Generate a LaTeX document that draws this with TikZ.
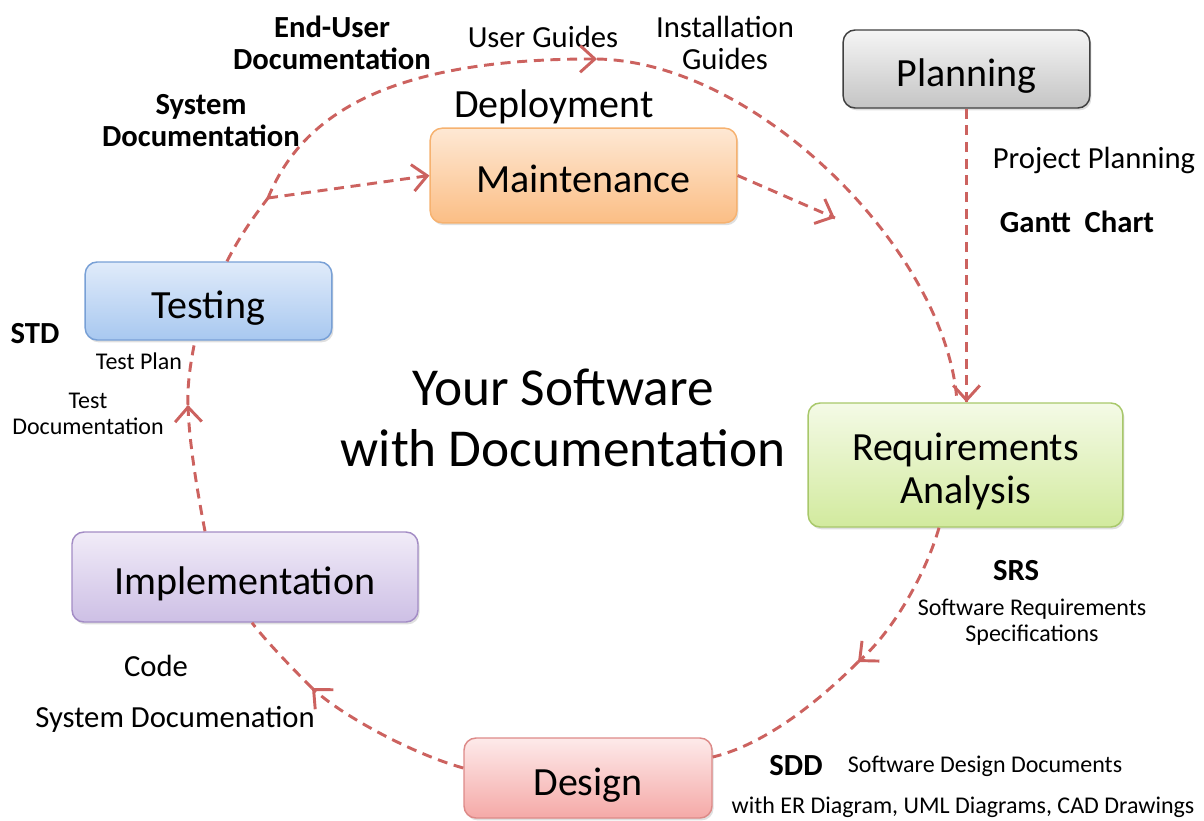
\documentclass[tikz,border=0pt]{standalone}
\usepackage{fontspec}
\setmainfont{Carlito}
\usetikzlibrary{arrows.meta,shadows,calc,decorations.markings}
\definecolor{arr}{RGB}{204,98,95}
\definecolor{plD}{RGB}{64,64,64}\definecolor{plT}{RGB}{245,245,245}\definecolor{plB}{RGB}{196,196,196}
\definecolor{maD}{RGB}{246,178,112}\definecolor{maT}{RGB}{254,232,212}\definecolor{maB}{RGB}{251,190,133}
\definecolor{teD}{RGB}{120,160,214}\definecolor{teT}{RGB}{224,235,250}\definecolor{teB}{RGB}{168,200,240}
\definecolor{reD}{RGB}{168,200,106}\definecolor{reT}{RGB}{244,250,230}\definecolor{reB}{RGB}{210,234,158}
\definecolor{imD}{RGB}{163,140,197}\definecolor{imT}{RGB}{241,236,248}\definecolor{imB}{RGB}{205,191,229}
\definecolor{deD}{RGB}{221,138,136}\definecolor{deT}{RGB}{253,234,234}\definecolor{deB}{RGB}{245,169,167}
\newcommand\szBox{\fontsize{30}{32}\selectfont}
\newcommand\szCtr{\fontsize{40}{46}\selectfont}
\newcommand\szMed{\fontsize{23}{24}\selectfont}
\newcommand\szSml{\fontsize{18}{19.5}\selectfont}
\begin{document}
\begin{tikzpicture}[x=0.75pt,y=-0.75pt,
  box/.style={draw, line width=1.1pt, rounded corners=9pt, align=center, inner sep=0pt, font=\szBox,
    text height=28pt, text depth=2pt,
    drop shadow={shadow xshift=1.2pt,shadow yshift=-1.8pt,opacity=0.25}},
  conn/.style={draw=arr, line width=2.2pt, dash pattern=on 7.5pt off 5pt},
  tipd/.style={postaction={decorate, decoration={markings,
    mark=at position 1 with {\pgfsetdash{}{0pt}\pgfsetlinewidth{2.2pt}\pgfsetstrokecolor{arr}%
      \arrow{Straight Barb[length=11pt,width=20pt]}}}}},
  lbl/.style={inner sep=0pt, align=center},
]
\useasboundingbox (0,0) rectangle (1204,821);

% boxes
\node[box, minimum width=185pt, minimum height=58.5pt, draw=plD, top color=plT, bottom color=plB] (plan) at (966.5,69) {Planning};
\node[box, minimum width=230pt, minimum height=71pt, draw=maD, top color=maT, bottom color=maB] (maint) at (583.5,175.5) {Maintenance};
\node[box, minimum width=185pt, minimum height=58.5pt, draw=teD, top color=teT, bottom color=teB] (test) at (208.5,301) {Testing};
\node[box, minimum width=236pt, minimum height=93pt, draw=reD, top color=reT, bottom color=reB,
  text height=58pt, text depth=1pt] (req) at (965.5,465) {Requirements\\Analysis};
\node[box, minimum width=259.5pt, minimum height=67.5pt, draw=imD, top color=imT, bottom color=imB] (impl) at (245,577) {Implementation};
\node[box, minimum width=186pt, minimum height=60pt, draw=deD, top color=deT, bottom color=deB] (design) at (588,778) {Design};

% labels
\node[lbl, font=\bfseries\szMed] (eud) at (332,43) {End-User\\Documentation};
\node[lbl, font=\szMed] (ugl) at (543,37) {User Guides};
\node[lbl, font=\szMed] (igl) at (725,43) {Installation\\Guides};
\node[lbl, font=\szBox] (dep) at (554,107) {Deployment};
\node[lbl, font=\bfseries\szMed] (sysd) at (201,121) {System\\Documentation};
\node[lbl, font=\szMed] (pp) at (1094,160) {Project Planning};
\node[lbl, font=\bfseries\szMed] (gc) at (1077,222) {Gantt~~Chart};
\node[lbl, font=\bfseries\szMed] (std) at (35,334) {STD};
\node[lbl, font=\szSml] (tp) at (139,361) {Test Plan};
\node[lbl, font=\szSml] (td) at (88,414) {Test\\Documentation};
\node[lbl, font=\szCtr] (ctr) at (563,418) {Your Software\\with Documentation};
\node[lbl, font=\bfseries\szMed] (srs) at (1016,571) {SRS};
\node[lbl, font=\szSml] (srsd) at (1032,622) {Software Requirements\\Specifications};
\node[lbl, font=\szMed] (code) at (156,666) {Code};
\node[lbl, font=\szMed] (sdoc) at (175,719) {System Documenation};
\node[lbl, font=\bfseries\szMed] (sdd) at (796,766) {SDD};
\node[lbl, font=\szSml] (sddd) at (985,766) {Software Design Documents};
\node[lbl, font=\szSml] (sddw) at (963,807) {with ER Diagram, UML Diagrams, CAD Drawings};

% coordinates
\coordinate (br) at (268,198);
\coordinate (ug) at (597,59);
\coordinate (mtip) at (835,218);
\coordinate (srstip) at (858,662);
\coordinate (codetip) at (312,688);
\coordinate (testtip) at (188,405);

% connectors
\draw[conn,tipd] (plan.south) -- (plan.south |- req.north);
\draw[conn,tipd] (maint.east) -- (mtip);
\draw[conn] ($(test.north)+(18.5,0)$) .. controls (242,232) and (256,214) .. (br);
\draw[conn,tipd] (br) .. controls (300,120) and (380,58) .. (ug);
\draw[conn] (ug) .. controls (760,62) and (948,255) .. ($(req.north)+(-8.5,0)$);
\draw[conn,tipd] (br) -- (maint.west);
\draw[conn,tipd] ($(req.south)+(-26.5,0)$) .. controls (927,570) and (895,630) .. (srstip);
\draw[conn] (srstip) .. controls (835,685) and (775,742) .. ($(design.east)+(0,-21)$);
\draw[conn,tipd] ($(design.west)+(0,-10)$) .. controls (413,754) and (342,716) .. (codetip);
\draw[conn] (codetip) .. controls (292,668) and (265,640) .. ($(impl.south)+(7,0)$);
\draw[conn,tipd] ($(impl.north)+(-40,0)$) .. controls (199,500) and (189,445) .. (testtip);
\draw[conn] (testtip) .. controls (187,385) and (191,360) .. ($(test.south)+(-13.5,0)$);
\end{tikzpicture}
\end{document}
